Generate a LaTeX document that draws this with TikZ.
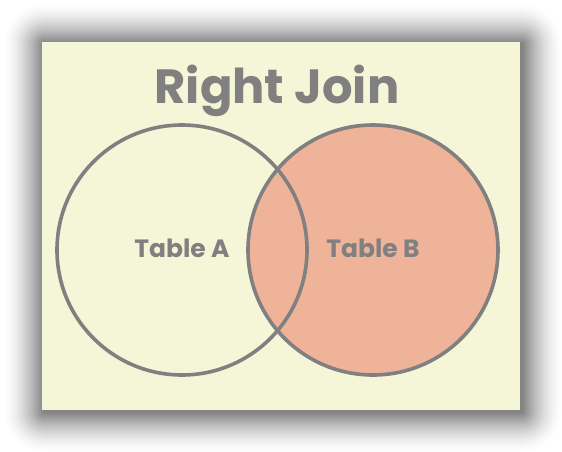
\documentclass[tikz,border=0pt]{standalone}
\usepackage{fontspec}
\setmainfont{Poppins}
\definecolor{cream}{HTML}{F5F5D7}
\definecolor{salmon}{HTML}{EFB399}
\definecolor{ink}{HTML}{808080}
\begin{document}
\begin{tikzpicture}[x=1pt,y=-1pt,
  venn/.style={draw=ink,line width=3.6pt},
  title/.style={font=\fontsize{48}{48}\selectfont\bfseries,text=ink,anchor=base,inner sep=0pt},
  lbl/.style={font=\fontsize{25}{25}\selectfont\bfseries,text=ink,anchor=base,inner sep=0pt}]
\useasboundingbox (0,0) rectangle (562,452);
\fill[white] (0,0) rectangle (562,452);
\foreach \i in {40,39,...,1}{
  \pgfmathsetmacro{\pct}{50*(1-\i/41)^1.6}
  \fill[black!\pct!white,rounded corners=\i pt] (44-\i,44-\i) rectangle (522+\i,412+\i);
}
\fill[cream] (42,42) rectangle (520,410);
\fill[salmon] (373,250) circle (125);
\draw[venn] (182,250) circle (125);
\draw[venn] (373,250) circle (125);
\node[title] (t) at (277,103) {Right Join};
\node[lbl] (a) at (182,257) {Table A};
\node[lbl] (b) at (373,257) {Table B};
\end{tikzpicture}
\end{document}
